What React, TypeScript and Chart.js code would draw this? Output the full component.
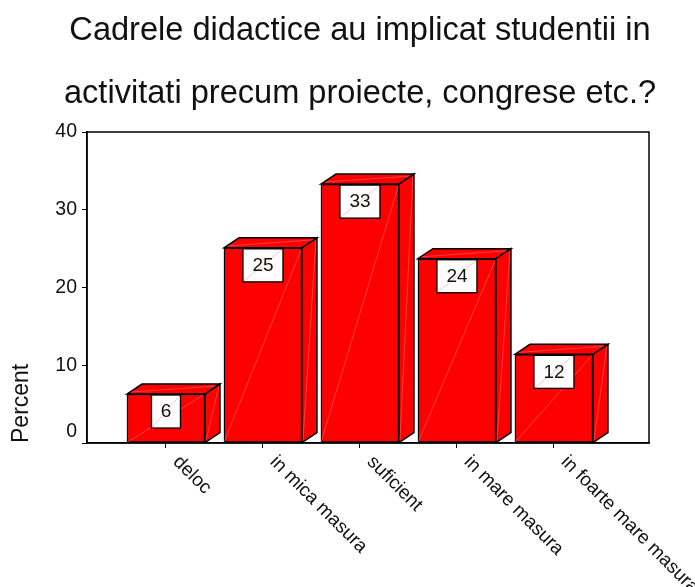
import React, { useEffect, useRef } from "react";
import { Chart, registerables } from "chart.js";

Chart.register(...registerables);

const categories = ["deloc", "in mica masura", "suficient", "in mare masura", "in foarte mare masura"];
const percentValues = [6.3, 25.1, 33.3, 23.7, 11.4];
const barLabels = ["6", "25", "33", "24", "12"];
const titleLines = ["Cadrele didactice au implicat studentii in", "activitati precum proiecte, congrese etc.?"];
const yTicks = [0, 10, 20, 30, 40];

const FONT = "'Liberation Sans', Arial, sans-serif";
const DEPTH_X = 15;
const DEPTH_Y = 10;

function poly(ctx: CanvasRenderingContext2D, pts: number[][]) {
  ctx.beginPath();
  pts.forEach((p, i) => (i ? ctx.lineTo(p[0], p[1]) : ctx.moveTo(p[0], p[1])));
  ctx.closePath();
  ctx.fillStyle = "#ff0000";
  ctx.fill();
  ctx.strokeStyle = "#000";
  ctx.lineWidth = 1.5;
  ctx.stroke();
}

function faint(ctx: CanvasRenderingContext2D, a: number[], b: number[], color = "rgba(255,255,255,0.3)") {
  ctx.beginPath();
  ctx.moveTo(a[0], a[1]);
  ctx.lineTo(b[0], b[1]);
  ctx.strokeStyle = color;
  ctx.lineWidth = 0.8;
  ctx.stroke();
}

const box3d = {
  id: "box3d",
  afterLayout(chart: any) {
    // the title is centred a little right of the page centre
    chart.titleBlock.left += 31.5;
    chart.titleBlock.right += 31.5;
  },
  afterDatasetsDraw(chart: any) {
    const ctx: CanvasRenderingContext2D = chart.ctx;
    const area = chart.chartArea;
    ctx.save();
    // frame
    ctx.strokeStyle = "#000";
    ctx.lineWidth = 1.5;
    ctx.strokeRect(area.left, area.top, area.right - area.left, area.bottom - area.top);

    chart.getDatasetMeta(0).data.forEach((bar: any, i: number) => {
      const l = bar.x - bar.width / 2;
      const r = bar.x + bar.width / 2;
      const t = bar.y;
      const b = bar.base;
      faint(ctx, [l, b], [r, t]);
      poly(ctx, [[l, t], [l + DEPTH_X, t - DEPTH_Y], [r + DEPTH_X, t - DEPTH_Y], [r, t]]);
      faint(ctx, [l + 4, t - 2], [r + DEPTH_X - 4, t - DEPTH_Y + 2]);
      poly(ctx, [[r, t], [r + DEPTH_X, t - DEPTH_Y], [r + DEPTH_X, b - DEPTH_Y], [r, b]]);
      faint(ctx, [r + 1, b - 2], [r + DEPTH_X - 1, t - DEPTH_Y + 2]);

      // value box
      const text = barLabels[i];
      ctx.font = `19px ${FONT}`;
      const w = text.length > 1 ? 40 : 29;
      const h = 33;
      const bx = bar.x - w / 2;
      const by = t + 1;
      ctx.fillStyle = "#fff";
      ctx.fillRect(bx, by, w, h);
      faint(ctx, [bx, by + h], [bx + w, by], "rgba(255,130,130,0.6)");
      ctx.strokeStyle = "#000";
      ctx.lineWidth = 1.3;
      ctx.strokeRect(bx, by, w, h);
      ctx.fillStyle = "#111";
      ctx.textAlign = "center";
      ctx.textBaseline = "middle";
      ctx.fillText(text, bar.x, by + h / 2 + 0.5);
    });

    // rotated category labels, running down to the right from each tick
    const xScale = chart.scales.x;
    ctx.fillStyle = "#111";
    ctx.font = `19px ${FONT}`;
    ctx.textAlign = "left";
    ctx.textBaseline = "middle";
    categories.forEach((c, i) => {
      ctx.save();
      ctx.translate(xScale.getPixelForValue(i) + 10, area.bottom + 16);
      ctx.rotate(Math.PI / 4);
      ctx.fillText(c, 0, 0);
      ctx.restore();
    });
    ctx.restore();
  },
};

export default function App() {
  const ref = useRef<HTMLCanvasElement>(null);
  useEffect(() => {
    document.body.style.margin = "0";
    const chart = new Chart(ref.current!, {
      type: "bar",
      data: {
        datasets: [
          {
            data: percentValues.map((v, i) => ({ x: i, y: v })),
            backgroundColor: "#ff0000",
            borderColor: "#000",
            borderWidth: 1.5,
            borderSkipped: false,
            barThickness: 78,
          },
        ],
      },
      plugins: [box3d],
      options: {
        animation: false,
        responsive: false,
        layout: { padding: { left: 8, right: 46, top: 0, bottom: 0 } },
        plugins: {
          legend: { display: false },
          tooltip: { enabled: false },
          title: {
            display: true,
            text: titleLines,
            color: "#111",
            font: { family: FONT, size: 32.6, weight: "normal", lineHeight: 63 / 32.6 },
            padding: { top: 0, bottom: 6 },
          },
        },
        scales: {
          x: {
            type: "linear",
            offset: false,
            min: -0.814,
            max: 4.98,
            afterBuildTicks: (s: any) => {
              s.ticks = categories.map((_, i) => ({ value: i }));
            },
            afterFit: (s: any) => {
              s.height = 144;
            },
            ticks: { display: false },
            grid: { offset: false, drawOnChartArea: false, tickLength: 5, color: "#000", lineWidth: 1 },
            border: { color: "#000", width: 1.5 },
          },
          y: {
            min: 0,
            max: 40,
            afterBuildTicks: (s: any) => {
              s.ticks = yTicks.map((v) => ({ value: v }));
            },
            afterFit: (s: any) => {
              s.width = 79;
            },
            ticks: {
              color: "#111",
              padding: 5,
              font: { family: FONT, size: 19.5 },
              callback: (v: any) => (v === 0 ? ["0", ""] : String(v)),
            },
            grid: { drawOnChartArea: false, tickLength: 5, color: "#000", lineWidth: 1 },
            border: { color: "#000", width: 1.5 },
            title: {
              display: true,
              text: "Percent",
              align: "start",
              color: "#111",
              padding: 0,
              font: { family: FONT, size: 23, lineHeight: 1.2 },
            },
          },
        },
      },
    } as any);
    return () => chart.destroy();
  }, []);
  return <canvas ref={ref} width={695} height={587} style={{ display: "block" }} />;
}
